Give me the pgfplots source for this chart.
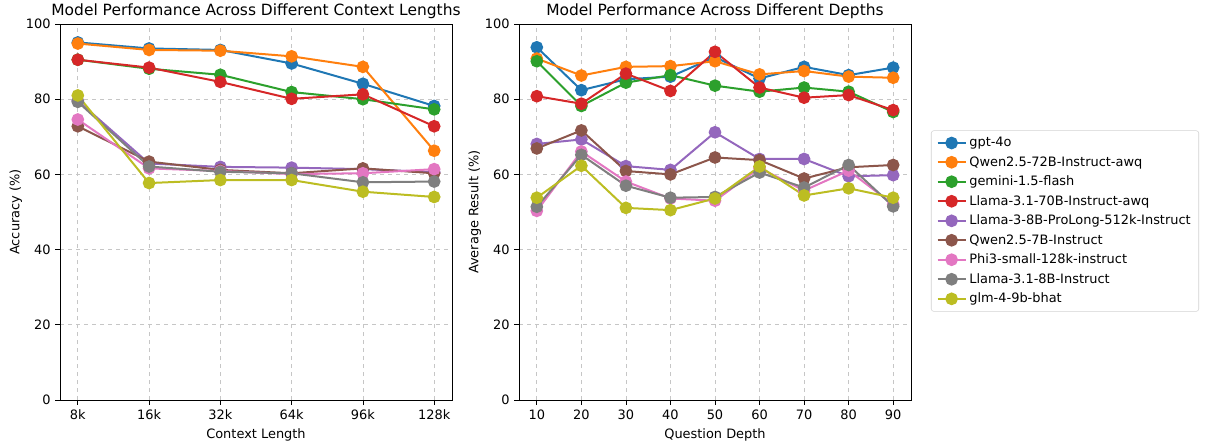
\documentclass[border=0pt]{standalone}
\usepackage{fontspec}
\setmainfont{DejaVu Sans}
\usepackage{pgfplots}
\pgfplotsset{compat=1.18}
\definecolor{c1}{HTML}{1F77B4}
\definecolor{c2}{HTML}{FF7F0E}
\definecolor{c3}{HTML}{2CA02C}
\definecolor{c4}{HTML}{D62728}
\definecolor{c5}{HTML}{9467BD}
\definecolor{c6}{HTML}{8C564B}
\definecolor{c7}{HTML}{E377C2}
\definecolor{c8}{HTML}{7F7F7F}
\definecolor{c9}{HTML}{BCBD22}
\pgfplotsset{
  base/.style={
    scale only axis, width=294pt, height=282pt,
    ymin=0, ymax=100, ytick={0,20,40,60,80,100},
    tick pos=left, tick align=outside, major tick length=3.6pt,
    tick style={black, line width=0.6pt},
    axis line style={line width=0.6pt},
    grid=major, major grid style={dashed, gray!45, line width=0.5pt},
    /pgf/number format/assume math mode=true,
    ticklabel style={font=\fontsize{9.7}{11.5}\selectfont},
    label style={font=\fontsize{9.7}{11.5}\selectfont},
    ylabel shift=-4pt,
    every axis title shift=0pt,
    title style={font=\fontsize{11.6}{14}\selectfont, at={(0.5,1)}, anchor=south, yshift=0.5pt},
    every axis plot/.append style={line width=1.5pt, mark=*, mark size=4pt, mark options={solid}},
  },
  s1/.style={color=c1}, s2/.style={color=c2}, s3/.style={color=c3},
  s4/.style={color=c4}, s5/.style={color=c5}, s6/.style={color=c6},
  s7/.style={color=c7}, s8/.style={color=c8}, s9/.style={color=c9},
}
\begin{document}
\begin{tikzpicture}
\useasboundingbox (0,0) rectangle (903.75pt,333pt);
\begin{axis}[base, at={(45pt,33pt)}, anchor=south west,
  xmin=-0.25, xmax=5.25, xtick={0,1,2,3,4,5},
  xticklabels={8k,16k,32k,64k,96k,128k},
  xlabel={Context Length}, ylabel={Accuracy (\%)},
  title={Model Performance Across Different Context Lengths}]
\addplot[s1] coordinates {(0,95.1)(1,93.5)(2,93.1)(3,89.5)(4,84.1)(5,78.2)};
\addplot[s2] coordinates {(0,94.8)(1,93.1)(2,92.9)(3,91.4)(4,88.6)(5,66.3)};
\addplot[s3] coordinates {(0,90.5)(1,88.1)(2,86.5)(3,81.9)(4,80.0)(5,77.3)};
\addplot[s4] coordinates {(0,90.5)(1,88.4)(2,84.6)(3,80.1)(4,81.3)(5,72.8)};
\addplot[s5] coordinates {(0,79.6)(1,62.9)(2,62.0)(3,61.8)(4,61.4)(5,60.6)};
\addplot[s6] coordinates {(0,72.8)(1,63.4)(2,61.2)(3,60.3)(4,61.6)(5,60.3)};
\addplot[s7] coordinates {(0,74.6)(1,61.6)(2,60.9)(3,60.1)(4,60.3)(5,61.4)};
\addplot[s8] coordinates {(0,79.3)(1,62.1)(2,60.7)(3,60.3)(4,57.9)(5,58.1)};
\addplot[s9] coordinates {(0,81.0)(1,57.7)(2,58.5)(3,58.5)(4,55.4)(5,54.0)};
\end{axis}
\begin{axis}[base, at={(389.25pt,33pt)}, anchor=south west,
  xmin=6, xmax=94, xtick={10,20,30,40,50,60,70,80,90},
  xlabel={Question Depth}, ylabel={Average Result (\%)},
  title={Model Performance Across Different Depths},
  legend cell align=left,
  legend style={at={(1.051,0.476)}, anchor=west, draw=gray!35, rounded corners=2pt,
    font=\fontsize{9.7}{11.5}\selectfont, row sep=1.8pt, inner xsep=4pt, inner ysep=3pt},
  legend image code/.code={\draw[mark repeat=2, mark phase=2] plot coordinates {(0cm,0cm)(0.37cm,0cm)(0.74cm,0cm)};}]
\addplot[s1] coordinates {(10,93.8)(20,82.4)(30,85.3)(40,86.0)(50,91.2)(60,85.5)(70,88.6)(80,86.4)(90,88.4)};
\addlegendentry{gpt-4o}
\addplot[s2] coordinates {(10,90.8)(20,86.3)(30,88.6)(40,88.8)(50,90.1)(60,86.6)(70,87.5)(80,86.0)(90,85.7)};
\addlegendentry{Qwen2.5-72B-Instruct-awq}
\addplot[s3] coordinates {(10,90.1)(20,78.2)(30,84.4)(40,86.4)(50,83.6)(60,82.0)(70,83.1)(80,82.0)(90,76.6)};
\addlegendentry{gemini-1.5-flash}
\addplot[s4] coordinates {(10,80.8)(20,78.8)(30,86.8)(40,82.2)(50,92.6)(60,83.1)(70,80.4)(80,81.1)(90,77.1)};
\addlegendentry{Llama-3.1-70B-Instruct-awq}
\addplot[s5] coordinates {(10,68.1)(20,69.3)(30,62.2)(40,61.2)(50,71.2)(60,64.1)(70,64.1)(80,59.5)(90,59.8)};
\addlegendentry{Llama-3-8B-ProLong-512k-Instruct}
\addplot[s6] coordinates {(10,66.9)(20,71.7)(30,60.9)(40,60.0)(50,64.5)(60,63.8)(70,58.9)(80,61.9)(90,62.5)};
\addlegendentry{Qwen2.5-7B-Instruct}
\addplot[s7] coordinates {(10,50.3)(20,66.1)(30,58.1)(40,53.6)(50,53.0)(60,61.7)(70,55.7)(80,61.0)(90,52.0)};
\addlegendentry{Phi3-small-128k-instruct}
\addplot[s8] coordinates {(10,51.4)(20,65.2)(30,57.0)(40,53.8)(50,54.0)(60,60.5)(70,56.5)(80,62.5)(90,51.5)};
\addlegendentry{Llama-3.1-8B-Instruct}
\addplot[s9] coordinates {(10,53.8)(20,62.3)(30,51.1)(40,50.5)(50,53.6)(60,62.1)(70,54.4)(80,56.3)(90,53.8)};
\addlegendentry{glm-4-9b-bhat}
\end{axis}
\end{tikzpicture}
\end{document}
